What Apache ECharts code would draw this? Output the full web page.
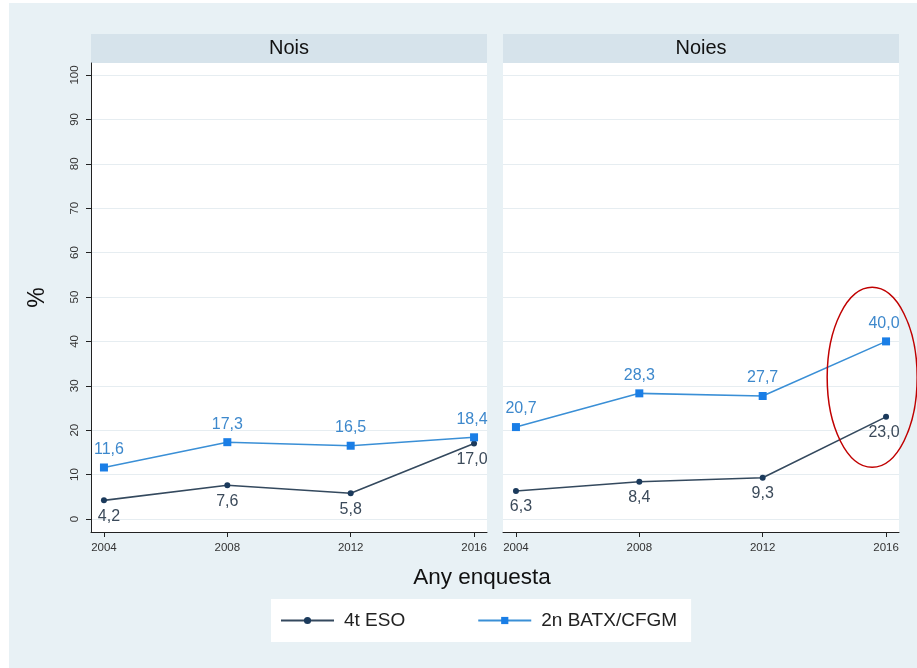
<!DOCTYPE html>
<html><head><meta charset="utf-8">
<script src="https://cdn.jsdelivr.net/npm/echarts@6/dist/echarts.min.js"></script>
<style>html,body{margin:0;padding:0;background:#fff}#c{width:917px;height:668px}</style>
</head><body><div id="c"></div>
<script>
const years = [2004, 2008, 2012, 2016];
const yTicks = [0,10,20,30,40,50,60,70,80,90,100];
const panels = ['Nois', 'Noies'];
const seriesNames = ['4t ESO', '2n BATX/CFGM'];
const noisESO = [4.2, 7.6, 5.8, 17.0];
const noisBATX = [11.6, 17.3, 16.5, 18.4];
const noiesESO = [6.3, 8.4, 9.3, 23.0];
const noiesBATX = [20.7, 28.3, 27.7, 40.0];
const xTitle = 'Any enquesta';
const yTitle = '%';

const FONT = "'Liberation Sans', Arial, sans-serif";
const darkLine = '#34495e', darkMark = '#1b3a5c', darkText = '#3b4a5a';
const blueLine = '#3a8fd6', blueMark = '#1a7ee6', blueText = '#3d88cc';
const fmt = v => v.toFixed(1).replace('.', ',');

const chart = echarts.init(document.getElementById('c'), null, {renderer: 'canvas'});

function xAx(i) {
  return {
    type: 'value', gridIndex: i, min: 2003.58, max: 2016.42,
    axisLine: {show: true, onZero: false, lineStyle: {color: '#222', width: 1}},
    axisTick: {show: true, length: 5, customValues: years, lineStyle: {color: '#222'}},
    axisLabel: {show: true, customValues: years, margin: 10, fontSize: 11.5, color: '#333', fontFamily: FONT, formatter: v => String(v)},
    splitLine: {show: false}
  };
}
function yAx(i) {
  return {
    type: 'value', gridIndex: i, min: -2.93, max: 102.7,
    name: i === 0 ? yTitle : '', nameLocation: 'middle', nameGap: 42, nameRotate: 90,
    nameTextStyle: {fontSize: 23, color: '#111', fontFamily: FONT},
    axisLine: {show: i === 0, onZero: false, lineStyle: {color: '#222', width: 1}},
    axisTick: {show: i === 0, length: 5, customValues: yTicks, lineStyle: {color: '#222'}},
    axisLabel: {show: i === 0, customValues: yTicks, rotate: 90, margin: 10, fontSize: 11.5, color: '#333', fontFamily: FONT},
    splitLine: {show: true, lineStyle: {color: '#e6edf1', width: 1}}
  };
}
function mk(name, data, idx, blue) {
  return {
    name: name, type: 'line', xAxisIndex: idx, yAxisIndex: idx,
    data: years.map((y, k) => ({value: [y, data[k]], label: {offset: [k === 0 ? 5 : (k === 3 ? -2 : 0), 0]}})),
    symbol: blue ? 'rect' : 'circle', symbolSize: blue ? 8 : 6,
    lineStyle: {color: blue ? blueLine : darkLine, width: 1.6},
    itemStyle: {color: blue ? blueMark : darkMark},
    label: {show: true, position: blue ? 'top' : 'bottom', distance: blue ? 6 : 5,
      formatter: p => fmt(p.value[1]), fontSize: 16, color: blue ? blueText : darkText, fontFamily: FONT},
    emphasis: {disabled: true}, animation: false, z: blue ? 3 : 2
  };
}

const option = {
  backgroundColor: '#ffffff',
  animation: false,
  textStyle: {fontFamily: FONT},
  grid: [
    {left: 91, top: 63, width: 396, height: 469, show: true, backgroundColor: '#ffffff', borderWidth: 0, containLabel: false},
    {left: 503, top: 63, width: 396, height: 469, show: true, backgroundColor: '#ffffff', borderWidth: 0, containLabel: false}
  ],
  xAxis: [xAx(0), xAx(1)],
  yAxis: [yAx(0), yAx(1)],
  legend: {
    left: 271, top: 599, orient: 'horizontal',
    data: seriesNames,
    padding: [12, 14, 12, 9], itemWidth: 53, itemHeight: 9, itemGap: 72,
    backgroundColor: '#ffffff',
    textStyle: {fontSize: 19, color: '#222', fontFamily: FONT, padding: [0, 0, 0, 5]}
  },
  series: [
    mk(seriesNames[0], noisESO, 0, false),
    mk(seriesNames[1], noisBATX, 0, true),
    mk(seriesNames[0], noiesESO, 1, false),
    mk(seriesNames[1], noiesBATX, 1, true)
  ],
  graphic: [
    {type: 'rect', z: -10, silent: true, shape: {x: 9, y: 3, width: 908, height: 665}, style: {fill: '#e8f1f5'}},
    {type: 'rect', z: -5, silent: true, shape: {x: 91, y: 34, width: 396, height: 29}, style: {fill: '#d6e3eb'}},
    {type: 'rect', z: -5, silent: true, shape: {x: 503, y: 34, width: 396, height: 29}, style: {fill: '#d6e3eb'}},
    {type: 'text', silent: true, x: 289, y: 48, style: {text: panels[0], fill: '#111', font: '20px ' + FONT, align: 'center', verticalAlign: 'middle'}},
    {type: 'text', silent: true, x: 701, y: 48, style: {text: panels[1], fill: '#111', font: '20px ' + FONT, align: 'center', verticalAlign: 'middle'}},
    {type: 'text', silent: true, x: 482, y: 578, style: {text: xTitle, fill: '#111', font: '22.5px ' + FONT, align: 'center', verticalAlign: 'middle'}}
  ]
};
chart.setOption(option);

// annotation ellipse around the 2016 girls' values
const c = chart.convertToPixel({gridIndex: 1}, [2015.55, 31.9]);
chart.setOption({graphic: option.graphic.concat([
  {type: 'ellipse', silent: true, z: 100, shape: {cx: c[0], cy: c[1], rx: 45, ry: 90}, style: {fill: 'none', stroke: '#c00000', lineWidth: 1.5}}
])});
</script></body></html>
